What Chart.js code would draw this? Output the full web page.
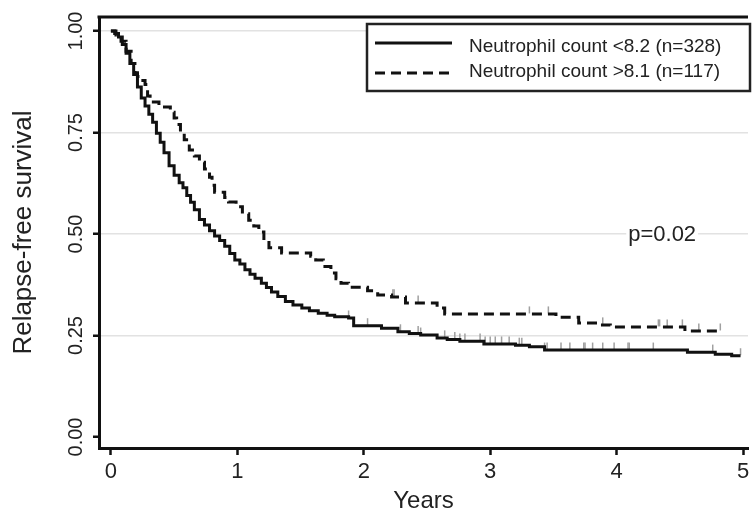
<!DOCTYPE html>
<html>
<head>
<meta charset="utf-8">
<script src="https://cdn.jsdelivr.net/npm/chart.js@4"></script>
<style>
  html, body { margin: 0; padding: 0; background: #fff; }
</style>
</head>
<body>
<canvas id="myChart" width="753" height="520"></canvas>
<script>
// Kaplan-Meier data (years, survival)
const lowTimes = [0.00, 0.03, 0.06, 0.09, 0.12, 0.15, 0.18, 0.21, 0.24, 0.27, 0.30, 0.33, 0.36, 0.39, 0.42, 0.46,
  0.50, 0.54, 0.57, 0.60, 0.63, 0.66, 0.70, 0.74, 0.78, 0.82, 0.86, 0.90, 0.94, 0.98, 1.02, 1.06, 1.10, 1.14,
  1.19, 1.23, 1.27, 1.32, 1.38, 1.44, 1.51, 1.57, 1.64, 1.71, 1.77, 1.88, 1.92, 2.14, 2.27, 2.36, 2.45, 2.58,
  2.66, 2.76, 2.95, 3.20, 3.31, 3.43, 4.56, 4.78, 4.91, 4.98];
const lowSurv = [1.000, 0.994, 0.985, 0.967, 0.945, 0.920, 0.893, 0.862, 0.835, 0.815, 0.795, 0.775, 0.748, 0.726,
  0.700, 0.668, 0.645, 0.626, 0.614, 0.595, 0.578, 0.560, 0.536, 0.522, 0.508, 0.495, 0.484, 0.470, 0.452, 0.436,
  0.426, 0.412, 0.401, 0.391, 0.379, 0.368, 0.357, 0.346, 0.334, 0.325, 0.318, 0.311, 0.305, 0.300, 0.296, 0.293,
  0.274, 0.268, 0.259, 0.255, 0.251, 0.244, 0.240, 0.236, 0.229, 0.226, 0.222, 0.214, 0.209, 0.204, 0.200, 0.200];
const lowCensored = [1.88, 2.03, 2.29, 2.43, 2.45, 2.64, 2.72, 2.76, 2.80, 2.92, 2.96, 3.00, 3.04, 3.09, 3.15, 3.23,
  3.25, 3.43, 3.45, 3.56, 3.63, 3.74, 3.75, 3.81, 3.89, 3.98, 4.09, 4.10, 4.29, 4.76, 4.98];

const highTimes = [0.00, 0.04, 0.08, 0.12, 0.16, 0.19, 0.21, 0.24, 0.27, 0.29, 0.31, 0.38, 0.47, 0.50, 0.52, 0.55,
  0.58, 0.62, 0.66, 0.70, 0.74, 0.78, 0.80, 0.82, 0.90, 0.93, 0.99, 1.04, 1.09, 1.13, 1.17, 1.21, 1.25, 1.35,
  1.58, 1.62, 1.68, 1.74, 1.78, 1.82, 1.88, 2.03, 2.11, 2.22, 2.33, 2.58, 2.64, 3.52, 3.70, 3.86, 3.95, 4.54, 4.83];
const highSurv = [1.000, 0.990, 0.975, 0.950, 0.920, 0.897, 0.888, 0.878, 0.868, 0.840, 0.825, 0.813, 0.800, 0.786,
  0.770, 0.752, 0.732, 0.707, 0.692, 0.677, 0.660, 0.640, 0.620, 0.603, 0.590, 0.579, 0.567, 0.550, 0.534, 0.520,
  0.505, 0.485, 0.466, 0.453, 0.445, 0.436, 0.420, 0.404, 0.390, 0.379, 0.369, 0.360, 0.350, 0.345, 0.330, 0.318,
  0.303, 0.295, 0.281, 0.276, 0.271, 0.261, 0.261];
const highCensored = [2.23, 2.24, 2.43, 3.31, 3.46, 3.89, 4.33, 4.34, 4.40, 4.52, 4.65, 4.82];

const seriesLabels = ['Neutrophil count <8.2 (n=328)', 'Neutrophil count >8.1 (n=117)'];
const xTicks = [0, 1, 2, 3, 4, 5];
const yTicks = [0, 0.25, 0.5, 0.75, 1];
const pLabel = 'p=0.02';
const pPos = [4.36, 0.497];

const FONT = '"Liberation Sans", Arial, sans-serif';
Chart.defaults.font.family = FONT;
Chart.defaults.color = '#222';

function toPoints(times, surv) {
  return times.map((t, i) => ({ x: t, y: surv[i] }));
}

// survival value of the step curve at time t
function stepAt(times, surv, t) {
  let v = surv[0];
  for (let i = 0; i < times.length; i++) {
    if (times[i] <= t) v = surv[i];
  }
  return v;
}

const markLift = 0.01;
function censorPoints(cens, times, surv) {
  return cens.map(t => ({ x: t, y: stepAt(times, surv, t) + markLift }));
}

const censorStyle = {
  type: 'line',
  showLine: false,
  pointStyle: 'line',
  pointRotation: 90,
  pointRadius: 3.5,
  pointBorderWidth: 1.5,
  pointBorderColor: '#a0a0a0',
  pointHoverRadius: 0
};

// legend box, p-value and the top frame line
const extras = {
  id: 'extras',
  afterDatasetsDraw(chart) {
    const { ctx, chartArea, scales } = chart;
    ctx.save();

    ctx.strokeStyle = '#111';
    ctx.lineWidth = 3;
    ctx.beginPath();
    ctx.moveTo(chartArea.left - 1.5, chartArea.top);
    ctx.lineTo(chartArea.right, chartArea.top);
    ctx.stroke();

    // p-value
    ctx.font = '22px ' + FONT;
    const px = scales.x.getPixelForValue(pPos[0]);
    const py = scales.y.getPixelForValue(pPos[1]);
    const w = ctx.measureText(pLabel).width;
    ctx.fillStyle = '#fff';
    ctx.fillRect(px - w / 2 - 2, py - 8, w + 4, 16);
    ctx.fillStyle = '#222';
    ctx.textAlign = 'center';
    ctx.textBaseline = 'middle';
    ctx.fillText(pLabel, px, py);

    // legend
    ctx.fillStyle = '#fff';
    ctx.fillRect(367, 24, 383, 67);
    ctx.strokeStyle = '#222';
    ctx.lineWidth = 2.5;
    ctx.strokeRect(367, 24, 383, 67);

    const rows = [43, 73];
    const textRows = [46.5, 71.5];
    ctx.font = '19px ' + FONT;
    ctx.textAlign = 'left';
    ctx.textBaseline = 'middle';
    [0, 1].forEach(i => {
      const ds = chart.data.datasets[i];
      ctx.strokeStyle = ds.borderColor;
      ctx.lineWidth = ds.borderWidth;
      ctx.setLineDash(ds.borderDash || []);
      ctx.beginPath();
      ctx.moveTo(375, rows[i]);
      ctx.lineTo(452, rows[i]);
      ctx.stroke();
      ctx.setLineDash([]);
      ctx.fillStyle = '#222';
      ctx.fillText(ds.label, 469, textRows[i]);
    });
    ctx.restore();
  }
};

const ctx = document.getElementById('myChart');

new Chart(ctx, {
  type: 'line',
  data: {
    datasets: [{
      label: seriesLabels[0],
      data: toPoints(lowTimes, lowSurv),
      borderColor: '#111',
      borderWidth: 3,
      stepped: 'before',
      pointRadius: 0,
      fill: false
    }, {
      label: seriesLabels[1],
      data: toPoints(highTimes, highSurv),
      borderColor: '#111',
      borderWidth: 3,
      borderDash: [10, 6],
      stepped: 'before',
      pointRadius: 0,
      fill: false
    }, Object.assign({
      label: 'censored low',
      data: censorPoints(lowCensored, lowTimes, lowSurv)
    }, censorStyle), Object.assign({
      label: 'censored high',
      data: censorPoints(highCensored, highTimes, highSurv)
    }, censorStyle)]
  },
  options: {
    responsive: false,
    animation: false,
    layout: { padding: { top: 17, right: 0, bottom: 0, left: 0 } },
    plugins: {
      legend: { display: false },
      tooltip: { enabled: false }
    },
    scales: {
      x: {
        type: 'linear',
        min: -0.0942,
        max: 5.039,
        afterBuildTicks: s => { s.ticks = xTicks.map(v => ({ value: v })); },
        afterFit: s => { s.height = 72; s.paddingLeft = 0; s.paddingRight = 0; },
        grid: { drawOnChartArea: false, tickLength: 7, tickColor: '#111', tickWidth: 2.5 },
        border: { color: '#111', width: 3 },
        ticks: { font: { size: 22 }, color: '#222', padding: 4, maxRotation: 0 },
        title: { display: true, text: 'Years', font: { size: 24 }, color: '#222', padding: { top: 0, bottom: 4 } }
      },
      y: {
        type: 'linear',
        min: -0.0271,
        max: 1.0345,
        afterBuildTicks: s => { s.ticks = yTicks.map(v => ({ value: v })); },
        afterFit: s => { s.width = 99; s.paddingTop = 0; s.paddingBottom = 0; },
        grid: {
          color: c => (c.tick && c.tick.value === 0) ? 'rgba(0,0,0,0)' : '#e2e2e2',
          lineWidth: 1.5,
          tickLength: 6,
          tickColor: '#111',
          tickWidth: 2.5
        },
        border: { color: '#111', width: 3 },
        ticks: {
          font: { size: 20 },
          color: '#222',
          minRotation: 90,
          maxRotation: 90,
          crossAlign: 'center',
          padding: -3,
          callback: v => v.toFixed(2)
        },
        title: { display: true, text: 'Relapse-free survival', font: { size: 26 }, color: '#222', padding: { top: 8, bottom: 0 } }
      }
    }
  },
  plugins: [extras]
});
</script>
</body>
</html>
